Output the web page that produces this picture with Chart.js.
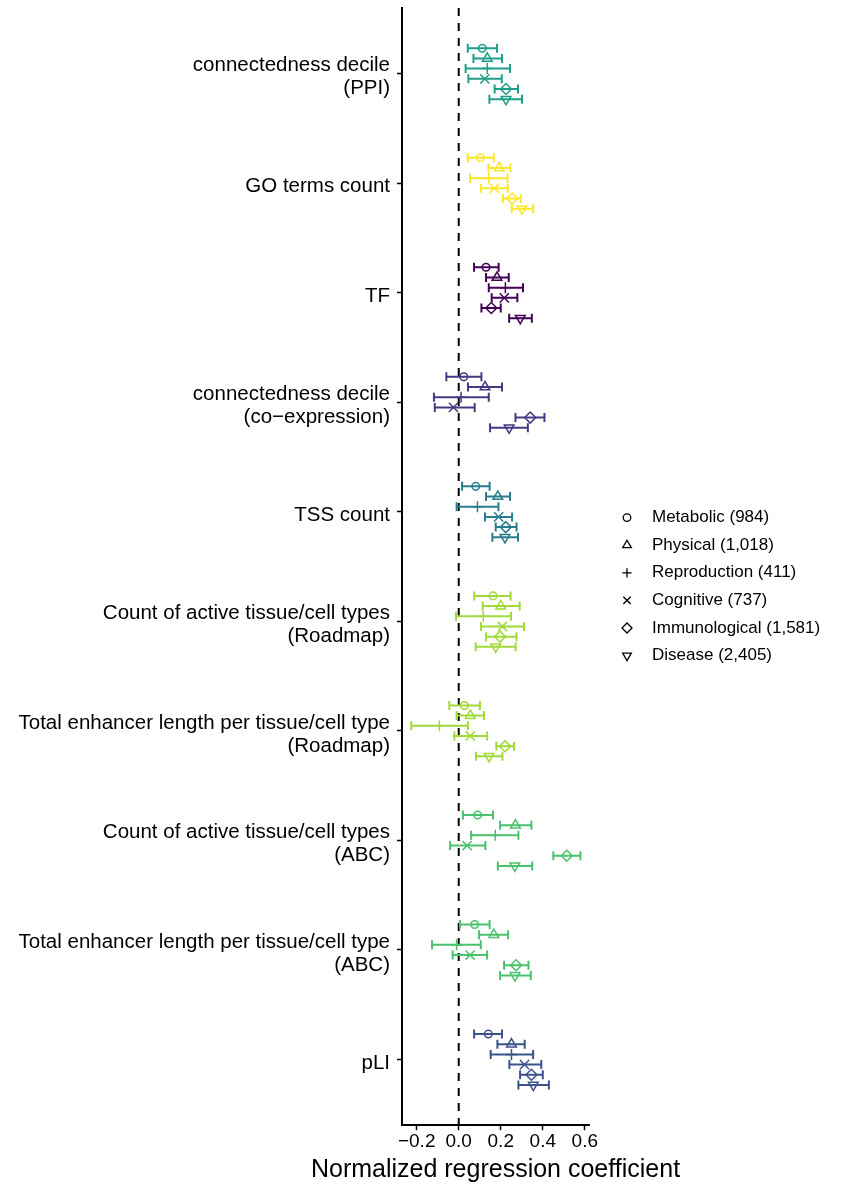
<!DOCTYPE html>
<html>
<head>
<meta charset="utf-8">
<script src="https://cdn.jsdelivr.net/npm/chart.js@4.4.0/dist/chart.umd.min.js"></script>
<style>
  body { margin: 0; background: #fff; }
</style>
</head>
<body>
<canvas id="chart" width="863" height="1186"></canvas>
<script>
// Data
const categories = [
    "connectedness decile\n(PPI)",
    "GO terms count",
    "TF",
    "connectedness decile\n(co\u2212expression)",
    "TSS count",
    "Count of active tissue/cell types\n(Roadmap)",
    "Total enhancer length per tissue/cell type\n(Roadmap)",
    "Count of active tissue/cell types\n(ABC)",
    "Total enhancer length per tissue/cell type\n(ABC)",
    "pLI"
];
const categoryColors = ["#1f9e89", "#fde725", "#440154", "#443a83", "#287d8e",
    "#a0da39", "#a0da39", "#4ac16d", "#4ac16d", "#3b528b"];

const traitLabels = ["Metabolic (984)", "Physical (1,018)", "Reproduction (411)",
    "Cognitive (737)", "Immunological (1,581)", "Disease (2,405)"];

const metabolicEst  = [0.112, 0.103, 0.130, 0.024, 0.081, 0.163, 0.027, 0.090, 0.076, 0.141];
const metabolicLow  = [0.043, 0.043, 0.073, -0.059, 0.016, 0.074, -0.045, 0.020, 0.006, 0.073];
const metabolicHigh = [0.182, 0.167, 0.190, 0.108, 0.147, 0.247, 0.101, 0.163, 0.147, 0.206];

const physicalEst  = [0.136, 0.193, 0.182, 0.125, 0.186, 0.200, 0.055, 0.270, 0.167, 0.251];
const physicalLow  = [0.070, 0.141, 0.130, 0.044, 0.130, 0.114, -0.010, 0.197, 0.097, 0.184];
const physicalHigh = [0.206, 0.246, 0.238, 0.206, 0.244, 0.290, 0.120, 0.346, 0.235, 0.314];

const reproductionEst  = [0.136, 0.143, 0.222, 0.011, 0.089, 0.117, -0.092, 0.174, -0.010, 0.251];
const reproductionLow  = [0.033, 0.054, 0.143, -0.118, -0.010, -0.013, -0.226, 0.059, -0.127, 0.152];
const reproductionHigh = [0.244, 0.232, 0.306, 0.143, 0.189, 0.249, 0.044, 0.284, 0.105, 0.354];

const cognitiveEst  = [0.124, 0.170, 0.217, -0.025, 0.190, 0.208, 0.055, 0.040, 0.054, 0.313];
const cognitiveLow  = [0.046, 0.106, 0.157, -0.114, 0.125, 0.106, -0.021, -0.041, -0.029, 0.241];
const cognitiveHigh = [0.205, 0.233, 0.279, 0.076, 0.254, 0.311, 0.135, 0.127, 0.135, 0.393];

const immunologicalEst  = [0.225, 0.254, 0.155, 0.340, 0.224, 0.197, 0.220, 0.514, 0.273, 0.346];
const immunologicalLow  = [0.171, 0.210, 0.108, 0.270, 0.176, 0.130, 0.179, 0.450, 0.216, 0.292];
const immunologicalHigh = [0.282, 0.295, 0.200, 0.408, 0.275, 0.275, 0.263, 0.579, 0.332, 0.400];

const diseaseEst  = [0.225, 0.301, 0.293, 0.240, 0.220, 0.176, 0.144, 0.267, 0.268, 0.355];
const diseaseLow  = [0.146, 0.252, 0.240, 0.149, 0.160, 0.081, 0.082, 0.186, 0.197, 0.284];
const diseaseHigh = [0.301, 0.354, 0.348, 0.329, 0.282, 0.271, 0.208, 0.350, 0.343, 0.429];

const xTicks = [-0.2, 0.0, 0.2, 0.4, 0.6];
const xTitle = "Normalized regression coefficient";

// Marker styling per trait
const traits = [
    {est: metabolicEst, low: metabolicLow, high: metabolicHigh, style: "circle", radius: 3.8, legendRadius: 3.8, rotation: 0},
    {est: physicalEst, low: physicalLow, high: physicalHigh, style: "triangle", radius: 5.6, legendRadius: 5, rotation: 0},
    {est: reproductionEst, low: reproductionLow, high: reproductionHigh, style: "cross", radius: 5.5, legendRadius: 4.6, rotation: 0},
    {est: cognitiveEst, low: cognitiveLow, high: cognitiveHigh, style: "crossRot", radius: 6.5, legendRadius: 5.2, rotation: 0},
    {est: immunologicalEst, low: immunologicalLow, high: immunologicalHigh, style: "rectRot", radius: 5.5, legendRadius: 5, rotation: 0},
    {est: diseaseEst, low: diseaseLow, high: diseaseHigh, style: "triangle", radius: 5.6, legendRadius: 5, rotation: 180}
];

const dodge = (j) => (j - 2.5) * 0.093;
const fontFamily = "'Liberation Sans', Arial, Helvetica, sans-serif";

// Datasets
let datasets = [];
traits.forEach((t, j) => {
    datasets.push({
        label: traitLabels[j],
        data: t.est.map((v, i) => ({x: v, y: i + dodge(j)})),
        pointStyle: t.style,
        pointRadius: t.radius,
        pointHoverRadius: t.radius,
        pointRotation: t.rotation,
        pointBorderColor: categoryColors,
        pointBackgroundColor: "rgba(0,0,0,0)",
        pointBorderWidth: 1.5,
        showLine: false
    });
});
traits.forEach((t, j) => {
    t.est.forEach((v, i) => {
        datasets.push({
            label: "err",
            data: [{x: t.low[i], y: i + dodge(j)}, {x: t.high[i], y: i + dodge(j)}],
            showLine: true,
            borderColor: categoryColors[i],
            borderWidth: 2,
            pointStyle: "line",
            pointRotation: 90,
            pointRadius: 4.5,
            pointHoverRadius: 4.5,
            pointBorderColor: categoryColors[i],
            pointBorderWidth: 2
        });
    });
});
datasets.push({
    label: "zero",
    data: [{x: 0, y: -0.6}, {x: 0, y: 9.6}],
    showLine: true,
    borderColor: "#000",
    borderWidth: 2,
    borderDash: [8, 7],
    pointRadius: 0,
    pointHoverRadius: 0
});

// Legend + x title drawn beside the plot
const traitLegend = {
    id: "traitLegend",
    afterDraw: (chart) => {
        const ctx = chart.ctx;
        const area = chart.chartArea;
        const markerX = area.right + 38;
        const textX = area.right + 63;
        const rowHeight = 27.6;
        const startY = (area.top + area.bottom) / 2 - 2.5 * rowHeight + 20;
        ctx.save();
        ctx.font = "17px " + fontFamily;
        ctx.textBaseline = "middle";
        ctx.textAlign = "left";
        traits.forEach((t, j) => {
            const y = startY + j * rowHeight;
            ctx.strokeStyle = "#000";
            ctx.fillStyle = "rgba(0,0,0,0)";
            ctx.lineWidth = 1.3;
            Chart.helpers.drawPoint(ctx, {
                pointStyle: t.style,
                rotation: t.rotation,
                radius: t.legendRadius,
                borderWidth: 1.3
            }, markerX, y);
            ctx.fillStyle = "#000";
            ctx.fillText(traitLabels[j], textX, y);
        });
        // axis title
        ctx.font = "25px " + fontFamily;
        ctx.textAlign = "center";
        ctx.fillText(xTitle, (area.left + area.right) / 2, 1170);
        ctx.restore();
    }
};

// Chart
new Chart(document.getElementById("chart"), {
    type: "scatter",
    data: {datasets: datasets},
    options: {
        responsive: false,
        animation: false,
        layout: {padding: {top: 8, right: 274, bottom: 33, left: 0}},
        plugins: {
            tooltip: {enabled: false},
            legend: {display: false}
        },
        scales: {
            x: {
                type: "linear",
                min: -0.27,
                max: 0.62,
                afterBuildTicks: s => { s.ticks = xTicks.map(v => ({value: v})); },
                afterFit: s => { s.paddingLeft = 0; s.paddingRight = 0; },
                ticks: {
                    color: "#000",
                    font: {family: fontFamily, size: 19},
                    padding: 0,
                    callback: v => v === 0 ? "0.0" : (v < 0 ? "\u2212" : "") + Math.abs(v).toFixed(1)
                },
                grid: {drawOnChartArea: false, drawTicks: true, tickLength: 5, tickColor: "#000", tickWidth: 1.5},
                border: {display: true, color: "#000", width: 2}
            },
            y: {
                type: "linear",
                min: -0.6,
                max: 9.6,
                reverse: true,
                afterBuildTicks: s => { s.ticks = categories.map((c, i) => ({value: i})); },
                afterFit: s => { s.width = 402; s.paddingTop = 0; s.paddingBottom = 0; },
                ticks: {
                    color: "#000",
                    font: {family: fontFamily, size: 20.5, lineHeight: 1.12},
                    padding: 7,
                    labelOffset: 3.5,
                    callback: v => categories[v] ? categories[v].split("\n") : ""
                },
                grid: {drawOnChartArea: false, drawTicks: true, tickLength: 5, tickColor: "#000", tickWidth: 1.5},
                border: {display: true, color: "#000", width: 2}
            }
        }
    },
    plugins: [traitLegend]
});
</script>
</body>
</html>
